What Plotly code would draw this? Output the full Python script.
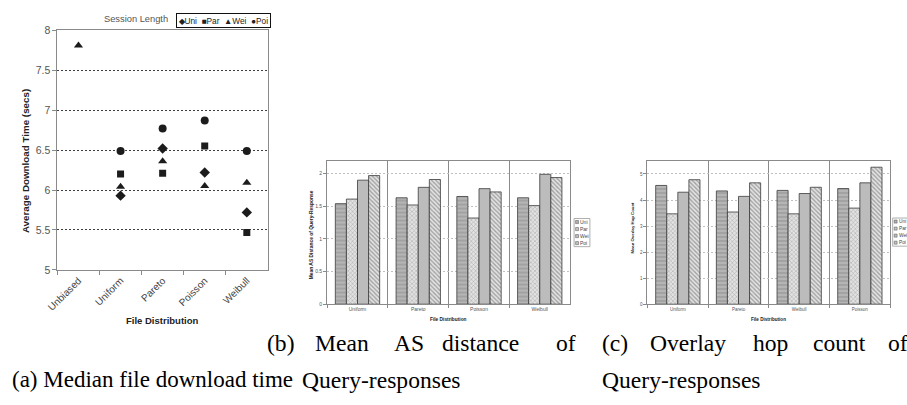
import plotly.graph_objects as go

W, H = 907, 405

# ---- data -------------------------------------------------------------
series_names = ["Uni", "Par", "Wei", "Poi"]

# (a) median file download time (secs)
dl_categories = ["Unbiased", "Uniform", "Pareto", "Poisson", "Weibull"]
dl_uni = [None, 5.93, 6.52, 6.22, 5.72]
dl_par = [None, 6.20, 6.21, 6.55, 5.47]
dl_wei = [7.81, 6.04, 6.36, 6.05, 6.09]
dl_poi = [None, 6.49, 6.77, 6.87, 6.49]

# (b) mean AS distance of query-responses
as_categories = ["Uniform", "Pareto", "Poisson", "Weibull"]
as_uni = [1.54, 1.63, 1.65, 1.63]
as_par = [1.61, 1.52, 1.32, 1.51]
as_wei = [1.90, 1.79, 1.77, 1.99]
as_poi = [1.97, 1.91, 1.72, 1.94]

# (c) mean overlay hop count of query-responses
hop_categories = ["Uniform", "Pareto", "Weibull", "Poisson"]
hop_uni = [4.56, 4.35, 4.37, 4.44]
hop_par = [3.47, 3.54, 3.47, 3.69]
hop_wei = [4.30, 4.14, 4.25, 4.66]
hop_poi = [4.78, 4.66, 4.49, 5.26]

# ---- styling ----------------------------------------------------------
SANS = "Liberation Sans, Arial, sans-serif"
SERIF = "Liberation Serif, Times New Roman, serif"

marker_symbols = {"Uni": "diamond", "Par": "square", "Wei": "triangle-up", "Poi": "circle"}
marker_sizes = {"Uni": 8, "Par": 7, "Wei": 8, "Poi": 8}
legend_glyphs = {"Uni": "\u25c6", "Par": "\u25a0", "Wei": "\u25b2", "Poi": "\u25cf"}

bar_patterns = {
    "Uni": dict(shape="-", bgcolor="#a2a2a2", fgcolor="#cdcdcd", size=4, solidity=0.45),
    "Par": dict(shape="x", bgcolor="#e2e2e2", fgcolor="#7a7a7a", size=3, solidity=0.35),
    "Wei": dict(shape="", bgcolor="#bcbcbc", fgcolor="#bcbcbc"),
    "Poi": dict(shape="\\", bgcolor="#e4e4e4", fgcolor="#5e5e5e", size=3, solidity=0.45),
}
swatch_colors = {"Uni": "#b0b0b0", "Par": "#c4c4c4", "Wei": "#bcbcbc", "Poi": "#c0c0c0"}


def px(x):
    return x / W


def py(y):
    return 1 - y / H


fig = go.Figure()

# ---- (a) scatter of download times ------------------------------------
for name, vals in zip(series_names, [dl_uni, dl_par, dl_wei, dl_poi]):
    fig.add_trace(go.Scatter(
        x=dl_categories, y=vals, mode="markers", name=name, showlegend=False,
        marker=dict(symbol=marker_symbols[name], size=marker_sizes[name], color="#1c1c1c"),
        xaxis="x", yaxis="y",
    ))

# ---- (b) and (c) grouped bars -----------------------------------------
for name, vals in zip(series_names, [as_uni, as_par, as_wei, as_poi]):
    fig.add_trace(go.Bar(
        x=as_categories, y=vals, name=name, showlegend=False,
        marker=dict(color=bar_patterns[name]["bgcolor"], pattern=bar_patterns[name],
                    line=dict(color="#3a3a3a", width=0.8)),
        xaxis="x2", yaxis="y2",
    ))
for name, vals in zip(series_names, [hop_uni, hop_par, hop_wei, hop_poi]):
    fig.add_trace(go.Bar(
        x=hop_categories, y=vals, name=name, showlegend=False,
        marker=dict(color=bar_patterns[name]["bgcolor"], pattern=bar_patterns[name],
                    line=dict(color="#3a3a3a", width=0.8)),
        xaxis="x3", yaxis="y3",
    ))

frame = dict(showline=True, mirror=True, linecolor="#8a8a8a", linewidth=1)

fig.update_layout(
    width=W, height=H, margin=dict(l=0, r=0, t=0, b=0),
    paper_bgcolor="white", plot_bgcolor="white",
    barmode="group", bargap=0.27, bargroupgap=0,
    font=dict(family=SANS, color="#333"),
    xaxis=dict(domain=[px(47), px(260)], type="category", range=[-0.5, 4.5],
               tickson="boundaries", ticks="outside", ticklen=4, tickcolor="#8a8a8a",
               tickangle=-45, tickfont=dict(size=10, color="#444"), showgrid=False,
               anchor="y", **frame),
    yaxis=dict(domain=[py(272), py(25)], range=[5, 8], dtick=0.5,
               ticks="outside", ticklen=4, tickcolor="#8a8a8a",
               tickfont=dict(size=10.5, color="#555"),
               showgrid=True, gridcolor="#404040", griddash="2px,2px", gridwidth=1,
               zeroline=False, anchor="x", **frame),
    xaxis2=dict(domain=[px(320), px(566)], type="category",
                tickson="boundaries", ticks="outside", ticklen=3, tickcolor="#8a8a8a",
                tickfont=dict(size=5, color="#555"),
                showgrid=True, gridcolor="#8a8a8a", gridwidth=1,
                anchor="y2", **frame),
    yaxis2=dict(domain=[py(307.3), py(159.3)], range=[0, 2.2], dtick=0.5,
                ticks="outside", ticklen=3, tickcolor="#8a8a8a",
                tickfont=dict(size=5, color="#555"),
                showgrid=True, gridcolor="#c0c0c0", griddash="2px,2px", gridwidth=1,
                zeroline=False, anchor="x2", **frame),
    xaxis3=dict(domain=[px(644.3), px(890)], type="category",
                tickson="boundaries", ticks="outside", ticklen=3, tickcolor="#8a8a8a",
                tickfont=dict(size=4.5, color="#555"),
                showgrid=True, gridcolor="#8a8a8a", gridwidth=1,
                anchor="y3", **frame),
    yaxis3=dict(domain=[py(307.3), py(159.7)], range=[0, 5.5], dtick=1,
                ticks="outside", ticklen=3, tickcolor="#8a8a8a",
                tickfont=dict(size=4.5, color="#555"),
                showgrid=True, gridcolor="#c0c0c0", griddash="2px,2px", gridwidth=1,
                zeroline=False, anchor="x3", **frame),
)

annotations = []
shapes = []


def text(x, y, s, size, family=SANS, color="#222", bold=False, angle=0,
         xanchor="center", yanchor="middle", **kw):
    annotations.append(dict(
        x=px(x), y=py(y), xref="paper", yref="paper", showarrow=False,
        text=f"<b>{s}</b>" if bold else s, textangle=angle,
        font=dict(family=family, size=size, color=color),
        xanchor=xanchor, yanchor=yanchor, **kw))


# axis titles
text(153, 324, "File Distribution", 9.5, bold=True)
text(14, 160, "Average Download Time (secs)", 9.8, bold=True, angle=-90)
text(443, 322.7, "File Distribution", 4.8, bold=True)
text(304, 236, "Mean AS Distance of Query-Response", 4.9, bold=True, angle=-90)
text(767, 322.7, "File Distribution", 4.6, bold=True)
text(629, 228, "Mean Overlay Hop Count", 4.3, bold=True, angle=-90)

# (a) legend: caption plus boxed one-line key
text(161, 13, "Session Length", 9.3, color="#555", xanchor="right")
key = "&nbsp;&nbsp;".join(legend_glyphs[n] + n for n in series_names)
annotations.append(dict(
    x=px(167), y=py(15), xref="paper", yref="paper", showarrow=False,
    text=key, font=dict(family=SANS, size=8.3, color="#222"),
    xanchor="left", yanchor="middle", bordercolor="#111", borderwidth=1,
    borderpad=1.5, bgcolor="white"))


# (b) and (c) legends: small boxed keys with swatches
def bar_key(x0, x1, y0, y1, size):
    shapes.append(dict(type="rect", xref="paper", yref="paper",
                       x0=px(x0), x1=px(x1), y0=py(y1), y1=py(y0),
                       line=dict(color="#9a9a9a", width=0.8), fillcolor="white"))
    step = (y1 - y0) / len(series_names)
    for i, n in enumerate(series_names):
        yc = y0 + step * (i + 0.5)
        shapes.append(dict(type="rect", xref="paper", yref="paper",
                           x0=px(x0 + 1.5), x1=px(x0 + 4.5), y0=py(yc + 1.6), y1=py(yc - 1.6),
                           line=dict(color="#555", width=0.5),
                           fillcolor=swatch_colors[n]))
        text(x0 + 5, yc, n, size, color="#444", xanchor="left", borderpad=0)


bar_key(570, 586, 219, 248, 5)
bar_key(892.5, 912, 218.5, 247.5, 4.8)

# captions
cap = 23.6
text(-1, 385, "(a) Median file download time", 23, family=SERIF, color="black", xanchor="left")
text(293, 385, "Query-responses", cap, family=SERIF, color="black", xanchor="left")
text(596, 385, "Query-responses", cap, family=SERIF, color="black", xanchor="left")
for w, x in [("(b)", 257), ("Mean", 306), ("AS", 386), ("distance", 434), ("of", 550)]:
    text(x, 347, w, cap, family=SERIF, color="black", xanchor="left")
for w, x in [("(c)", 596), ("Overlay", 645), ("hop", 749), ("count", 810), ("of", 886)]:
    text(x, 347, w, cap, family=SERIF, color="black", xanchor="left")

fig.update_layout(annotations=annotations, shapes=shapes)

fig.write_html("out.html")
